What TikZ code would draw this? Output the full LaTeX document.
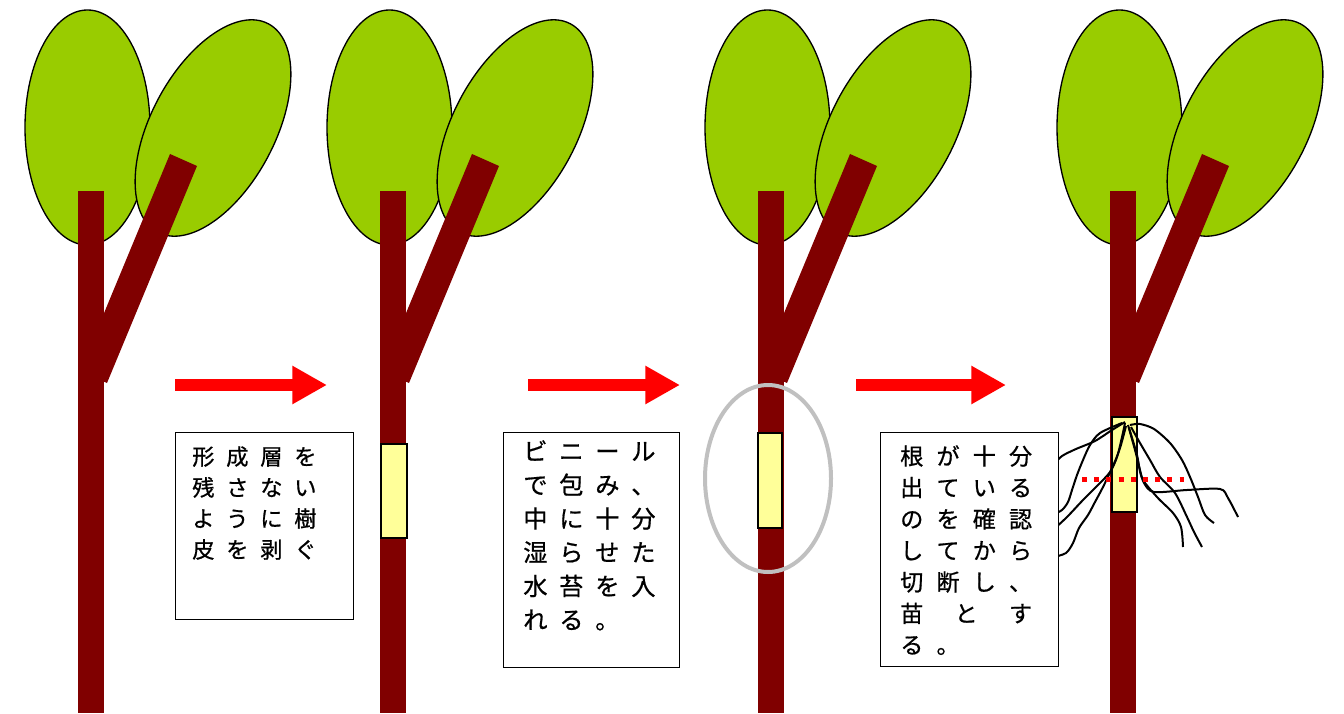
\documentclass[tikz,border=0pt]{standalone}
\usepackage{fontspec}
\newfontfamily\jpfont[FakeBold=0.7]{Noto Sans CJK JP}
\usetikzlibrary{arrows.meta}

\definecolor{leafgreen}{HTML}{99CC00}
\definecolor{barkred}{HTML}{800000}
\definecolor{bandyellow}{HTML}{FFFF99}
\definecolor{ringgray}{HTML}{C0C0C0}

% one character per fixed-width cell
\newlength\jpitch
\def\jrow#1{\jrowstep#1\relax}
\def\jrowstep#1{\ifx\relax#1\else\makebox[\jpitch][l]{#1}\expandafter\jrowstep\fi}

\begin{document}
\begin{tikzpicture}[
        x=0.75pt, y=-0.75pt,
        leaf/.style={draw=black, line width=1pt, fill=leafgreen},
        stem/.style={fill=barkred},
        band/.style={draw=black, line width=1.3pt, fill=bandyellow},
        ring/.style={draw=ringgray, line width=3pt},
        rootline/.style={draw=black, line width=1.5pt},
        cutline/.style={draw=red, line width=3.75pt, dash pattern=on 3.75pt off 5.4pt},
        notebox/.style={draw=black, line width=1.1pt, fill=white, anchor=north west, inner sep=0pt},
        notetext/.style={anchor=north west, inner sep=0pt, align=left},
        stagearrow/.style={draw=red, line width=9.4pt, -{Triangle[length=26pt,width=27pt]}},
        seedling/.pic={
            \draw[leaf] (87.5,127.5) ellipse [x radius=62.5, y radius=117.5];
            \draw[leaf, rotate around={-28:(213,128)}] (213,128) ellipse [x radius=62, y radius=118];
            \fill[stem] (78,191) rectangle (104,713);
            \fill[stem] (170,154) -- (197,166) -- (107,383) -- (80,371) -- cycle;
        },
    ]
    \useasboundingbox (0,0) rectangle (1344,713);

    % Seedlings
    \pic at (0,0) {seedling};
    \pic at (302,0) {seedling};
    \pic at (680,0) {seedling};
    \pic at (1032,0) {seedling};

    % Bark removed, wrapped, rooted
    \draw[band] (381,444) rectangle (407,538);
    \draw[band] (758,433) rectangle (782,528);
    \draw[ring] (768,478.5) ellipse [x radius=63, y radius=93.5];
    \draw[band] (1112,417) rectangle (1137,512);

    % Roots
    \draw[rootline] plot[smooth] coordinates {(1125,422) (1112,430) (1095,441) (1076,449) (1062,456) (1054,464)};
    \draw[rootline] plot[smooth] coordinates {(1122,423) (1100,433) (1090,445) (1083,460) (1077,475) (1072,490) (1068,502) (1062,510) (1054,514)};
    \draw[rootline] plot[smooth] coordinates {(1125,423) (1122,437) (1117,457) (1110,472) (1098,485) (1083,500) (1067,517) (1054,529)};
    \draw[rootline] plot[smooth] coordinates {(1126,426) (1120,448) (1113,466) (1103,487) (1095,502) (1088,515) (1079,528) (1073,543) (1066,553) (1054,557)};
    \draw[rootline] plot[smooth] coordinates {(1130,425) (1140,424) (1154,429) (1170,443) (1182,460) (1190,477) (1198,497) (1205,515) (1214,523)};
    \draw[rootline] plot[smooth] coordinates {(1128,425) (1135,450) (1140,470) (1144,483) (1154,492) (1187,490) (1220,489) (1228,498) (1238,517)};
    \draw[rootline] plot[smooth] coordinates {(1131,427) (1140,443) (1150,460) (1160,477) (1175,493) (1187,517) (1194,532) (1202,547)};
    \draw[rootline] plot[smooth] coordinates {(1129,428) (1137,455) (1142,478) (1157,497) (1173,513) (1181,527) (1183,547)};
    \draw[cutline] (1082,479) -- (1184,479);

    % Notes
    \node[notebox, minimum width=133.5pt, minimum height=140.25pt] (peel) at (175,432) {};
    \node[notetext, font={\jpfont\fontsize{16.7pt}{23.25pt}\selectfont\setlength\jpitch{25.5pt}}]
        (peeltext) at ([shift={(17,14)}]peel.north west)
        {\jrow{形成層を}\\ \jrow{残さない}\\ \jrow{ように樹}\\ \jrow{皮を剥ぐ}};

    \node[notebox, minimum width=132pt, minimum height=176.25pt] (wrap) at (503,432) {};
    \node[notetext, font={\jpfont\fontsize{18.2pt}{25.3pt}\selectfont\setlength\jpitch{27pt}}]
        (wraptext) at ([shift={(20,8)}]wrap.north west)
        {\jrow{ビニール}\\ \jrow{で包み、}\\ \jrow{中に十分}\\ \jrow{湿らせた}\\ \jrow{水苔を入}\\ \jrow{れる。}};

    \node[notebox, minimum width=133.5pt, minimum height=175.5pt] (cut) at (880,432) {};
    \node[notetext, font={\jpfont\fontsize{17.3pt}{23.6pt}\selectfont\setlength\jpitch{27.2pt}}]
        (cuttext) at ([shift={(20,13)}]cut.north west)
        {\jrow{根が十分}\\ \jrow{出ている}\\ \jrow{のを確認}\\ \jrow{してから}\\ \jrow{切断し、}\\
         \makebox[1.5\jpitch][l]{苗}\makebox[1.5\jpitch][l]{と}す\\ \jrow{る。}};

    % Stage arrows
    \coordinate (from1) at (175,385);
    \coordinate (to1) at (327,385);
    \coordinate (from2) at (528,385);
    \coordinate (to2) at (680,385);
    \coordinate (from3) at (856,385);
    \coordinate (to3) at (1006,385);
    \draw[stagearrow] (from1) -- (to1);
    \draw[stagearrow] (from2) -- (to2);
    \draw[stagearrow] (from3) -- (to3);

\end{tikzpicture}
\end{document}
